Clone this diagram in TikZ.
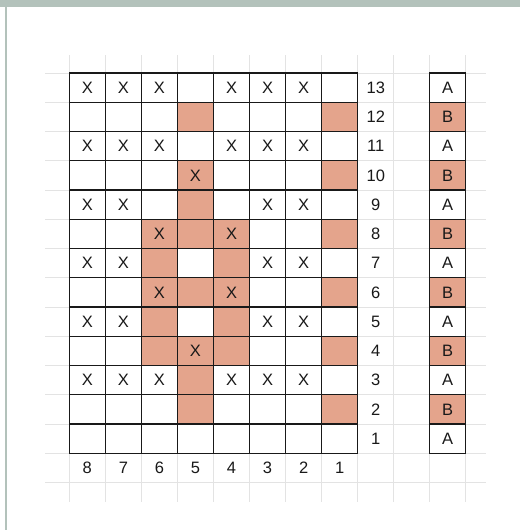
\documentclass[tikz,border=0pt]{standalone}
\usepackage{fontspec}
\setmainfont{Liberation Sans}
\definecolor{cellor}{RGB}{228,164,140}
\definecolor{framegray}{RGB}{179,194,187}
\definecolor{gridgray}{RGB}{227,227,227}
\definecolor{ink}{RGB}{25,25,25}
\begin{document}
\begin{tikzpicture}[x=1pt,y=-1pt,
  cell/.style={draw=ink,line width=1.1pt,minimum width=36.05pt,minimum height=29.25pt,inner sep=0pt,text=ink,font=\fontsize{16.5}{19}\selectfont},
  lab/.style={inner sep=0pt,text=ink,font=\fontsize{16.5}{19}\selectfont},
  light/.style={draw=gridgray,line width=1pt}]
\useasboundingbox (0,0) rectangle (520,530);
\fill[white] (0,0) rectangle (520,530);
% frame
\fill[framegray] (0,0) rectangle (520,7);
\fill[framegray] (5,7) rectangle (7,530);
% light spreadsheet grid
\foreach \k in {0,...,14} \draw[light] (45,73+29.25*\k) -- (486,73+29.25*\k);
\foreach \j in {0,...,11} \draw[light] (69.3+36.05*\j,55) -- (69.3+36.05*\j,502);
% cells
\foreach \r/\row in {13/{1,1,1,0,1,1,1,0},12/{0,0,0,2,0,0,0,2},11/{1,1,1,0,1,1,1,0},10/{0,0,0,3,0,0,0,2},9/{1,1,0,2,0,1,1,0},8/{0,0,3,2,3,0,0,2},7/{1,1,2,0,2,1,1,0},6/{0,0,3,2,3,0,0,2},5/{1,1,2,0,2,1,1,0},4/{0,0,2,3,2,0,0,2},3/{1,1,1,2,1,1,1,0},2/{0,0,0,2,0,0,0,2},1/{0,0,0,0,0,0,0,0}}{
  \foreach \v [count=\c] in \row {
    \ifcase\v \def\cf{white}\def\ct{}\or \def\cf{white}\def\ct{X}\or \def\cf{cellor}\def\ct{}\or \def\cf{cellor}\def\ct{X}\fi
    \node[cell,fill=\cf] (c\r-\c) at (69.3+36.05*\c-18.025,73+29.25*13-29.25*\r+14.625) {\ct};
  }
  \node[lab] (n\r) at (375.75,73+29.25*13-29.25*\r+14.625) {\r};
  \pgfmathtruncatemacro\odd{mod(\r,2)}
  \ifnum\odd=1 \def\af{white}\def\at{A}\else \def\af{cellor}\def\at{B}\fi
  \node[cell,fill=\af] (ab\r) at (447.7,73+29.25*13-29.25*\r+14.625) {\at};
}
% column numbers
\foreach \c in {1,...,8}{
  \pgfmathtruncatemacro\cl{9-\c}
  \node[lab] (col\c) at (69.3+36.05*\c-18.025,468) {\cl};
}
\end{tikzpicture}
\end{document}
